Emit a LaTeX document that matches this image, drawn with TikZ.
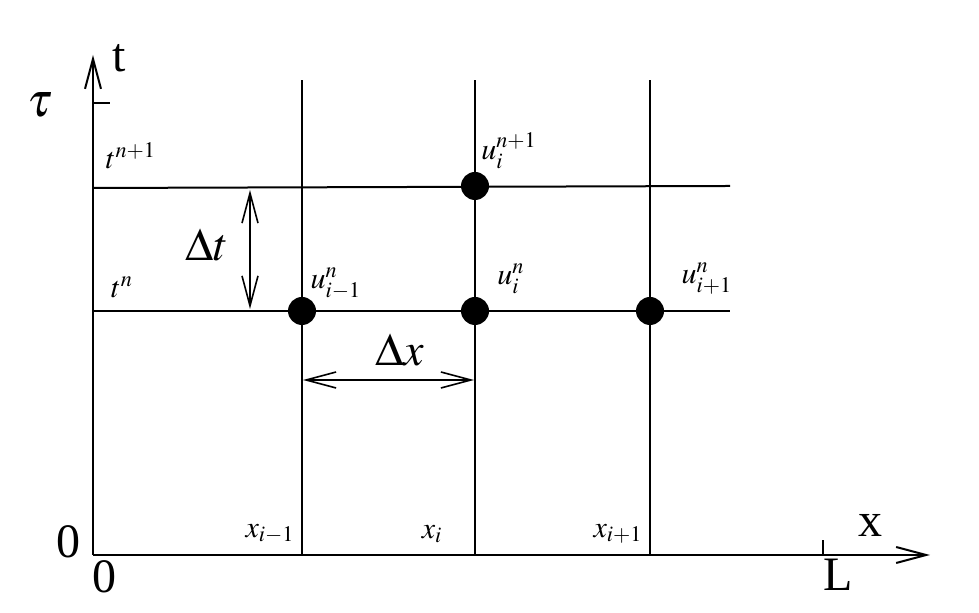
\documentclass[tikz,border=0pt]{standalone}
\usepackage{mathptmx}
\usepackage{fontspec}
\setmainfont{Liberation Serif}
\usetikzlibrary{arrows.meta}
\tikzset{
  gridline/.style={line width=1pt},
  axisline/.style={
    line width=1pt,
    -{Straight Barb[length=15pt,width=8pt]}
  },
  stepline/.style={
    line width=0.8pt,
    {Straight Barb[length=15pt,width=8pt]}-{Straight Barb[length=15pt,width=8pt]}
  },
  gridpoint/.style={
    circle,
    fill=black,
    inner sep=0pt,
    minimum size=14pt
  },
  meshlabel/.style={
    font=\fontsize{15}{17}\selectfont,
    inner sep=0pt
  },
  steplabel/.style={
    font=\fontsize{23}{25}\selectfont,
    inner sep=0pt
  },
  axislabel/.style={
    font=\fontsize{24}{26}\selectfont,
    inner sep=0pt
  }
}

\begin{document}
\begin{tikzpicture}[x=0.5pt,y=0.5pt]
  \useasboundingbox (-93,-58) rectangle (886,555);
  % axes
  \coordinate (origin) at (0,0);
  \coordinate (tend) at (0,500);
  \coordinate (xend) at (837,0);
  \draw[axisline] (origin) -- (tend);
  \draw[axisline] (origin) -- (xend);
  \coordinate (tauTick) at (0,452);
  \coordinate (tauTickEnd) at (17,452);
  \coordinate (lTick) at (730,0);
  \coordinate (lTickEnd) at (730,15);
  \draw[gridline] (tauTick) -- (tauTickEnd);
  \draw[gridline] (lTick) -- (lTickEnd);
  % mesh lines
  \foreach \name/\px in {im/209,i/382,ip/557}{
    \coordinate (\name bot) at (\px,0);
    \coordinate (\name top) at (\px,475);
    \draw[gridline] (\name bot) -- (\name top);
  }
  \coordinate (nleft) at (0,244);
  \coordinate (nright) at (637,244);
  \coordinate (npleft) at (0,367);
  \coordinate (npright) at (637,369);
  \draw[gridline] (nleft) -- (nright);
  \draw[gridline] (npleft) -- (npright);
  % mesh points
  \node[gridpoint] (uim) at (209,244) {};
  \node[gridpoint] (ui) at (382,244) {};
  \node[gridpoint] (uip) at (557,244) {};
  \node[gridpoint] (uinp) at (382,369) {};
  % step arrows
  \coordinate (dtlow) at (157,246);
  \coordinate (dthigh) at (157,365);
  \draw[stepline] (dthigh) -- (dtlow);
  \coordinate (dxleft) at (210,175);
  \coordinate (dxright) at (381,175);
  \draw[stepline] (dxleft) -- (dxright);
  \node[steplabel] (dtlab) at (114,310) {$\Delta t$};
  \node[steplabel] (dxlab) at (307,205) {$\Delta x$};
  % labels
  \node[meshlabel] (tnplab) at (38,399) {$t^{n+1}$};
  \node[meshlabel] (tnlab) at (29,268) {$t^{n}$};
  \node[meshlabel] (uimlab) at (243,271) {$u^{n}_{i-1}$};
  \node[meshlabel] (uilab) at (418,276) {$u^{n}_{i}$};
  \node[meshlabel] (uinplab) at (416,404) {$u^{n+1}_{i}$};
  \node[meshlabel] (uiplab) at (614,276) {$u^{n}_{i+1}$};
  \node[meshlabel] (ximlab) at (177,21) {$x_{i-1}$};
  \node[meshlabel] (xilab) at (339,21) {$x_{i}$};
  \node[meshlabel] (xiplab) at (525,21) {$x_{i+1}$};
  \node[axislabel] (taulab) at (-53,450) {$\tau$};
  \node[axislabel] (tlab) at (26,497) {t};
  \node[axislabel] (xlab) at (777,30) {x};
  \node[axislabel] (llab) at (745,-20) {L};
  \node[axislabel] (zerot) at (-24,13) {0};
  \node[axislabel] (zerox) at (12,-22) {0};
\end{tikzpicture}
\end{document}
